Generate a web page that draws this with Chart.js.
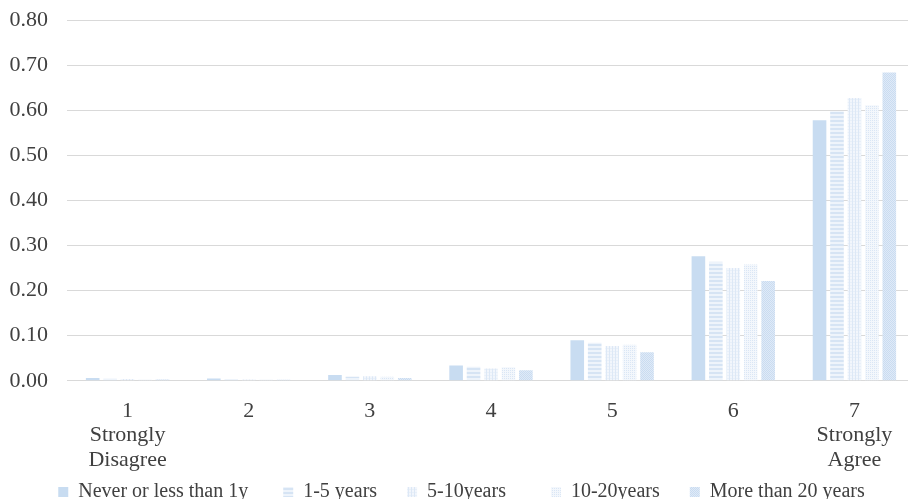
<!DOCTYPE html>
<html>
<head>
<meta charset="utf-8">
<script src="https://cdn.jsdelivr.net/npm/chart.js@4.4.1/dist/chart.umd.min.js"></script>
<style>
  html, body { margin: 0; padding: 0; background: #fff; overflow: hidden; }
  #wrap { width: 908px; height: 499px; overflow: hidden; }
</style>
</head>
<body>
<div id="wrap"><canvas id="chart" width="916" height="499"></canvas></div>
<script>
// categories (agreement scale) and tick labels
const categories = [
  ['1', 'Strongly', 'Disagree'], ['2'], ['3'], ['4'], ['5'], ['6'], ['7', 'Strongly', 'Agree']
];
const yTicks = [0, 0.1, 0.2, 0.3, 0.4, 0.5, 0.6, 0.7, 0.8];

// series values
const neverOrLess1y = [0.006, 0.005, 0.013, 0.034, 0.090, 0.276, 0.578];
const years1to5    = [0.005, 0.004, 0.009, 0.031, 0.084, 0.264, 0.598];
const years5to10   = [0.004, 0.003, 0.010, 0.027, 0.077, 0.250, 0.627];
const years10to20  = [0.003, 0.003, 0.009, 0.030, 0.080, 0.258, 0.611];
const over20years  = [0.003, 0.002, 0.006, 0.023, 0.063, 0.221, 0.684];

// extra spaces after each legend entry, to spread the legend like the source
const legendGap = [7, 6, 9, 6, 0];

// small tile patterns, like the office-style fills in the source
function makePattern(size, bg, draw) {
  const c = document.createElement('canvas');
  c.width = size; c.height = size;
  const g = c.getContext('2d');
  g.fillStyle = bg;
  g.fillRect(0, 0, size, size);
  draw(g);
  return document.getElementById('chart').getContext('2d').createPattern(c, 'repeat');
}

const fillSolid = '#c8dcf1';
const fillHoriz = makePattern(4, '#eef4fb', g => {
  g.fillStyle = '#d6e4f4';
  g.fillRect(0, 0, 4, 2);
});
const fillVert = makePattern(3, '#f2f6fc', g => {
  g.fillStyle = '#dde8f6';
  g.fillRect(0, 0, 1, 3);
  g.fillStyle = '#e8f0f9';
  g.fillRect(1, 0, 2, 1);
});
const fillDots = makePattern(2, '#f3f7fc', g => {
  g.fillStyle = '#dae6f5';
  g.fillRect(0, 0, 1, 1);
});
const fillCross = makePattern(2, '#e0eaf7', g => {
  g.fillStyle = '#c9dcf1';
  g.fillRect(0, 0, 1, 1);
  g.fillRect(1, 1, 1, 1);
});

const serif = "'Liberation Serif', 'DejaVu Serif', serif";
const textColor = '#404040';

const chart = new Chart(document.getElementById('chart'), {
  type: 'bar',
  data: {
    labels: categories,
    datasets: [
      { label: 'Never or less than 1y', data: neverOrLess1y, backgroundColor: fillSolid },
      { label: '1-5 years', data: years1to5, backgroundColor: fillHoriz },
      { label: '5-10years', data: years5to10, backgroundColor: fillVert },
      { label: '10-20years', data: years10to20, backgroundColor: fillDots },
      { label: 'More than 20 years', data: over20years, backgroundColor: fillCross }
    ]
  },
  options: {
    responsive: false,
    animation: false,
    devicePixelRatio: 1,
    categoryPercentage: 0.72,
    barPercentage: 0.78,
    layout: { padding: { left: 8, right: 1, top: 0, bottom: -13 } },
    plugins: {
      tooltip: { enabled: false },
      legend: {
        position: 'bottom',
        labels: {
          color: textColor,
          font: { family: serif, size: 20, lineHeight: 1.0 },
          boxWidth: 10,
          boxHeight: 10,
          padding: 0,
          generateLabels: c => {
            const items = Chart.defaults.plugins.legend.labels.generateLabels(c);
            items.forEach((it, i) => { it.text = it.text + ' '.repeat(legendGap[i]); });
            return items;
          }
        }
      }
    },
    scales: {
      x: {
        grid: { display: false, drawTicks: false },
        border: { display: true, color: '#d9d9d9' },
        // labels may run into the legend's top margin, as in the source
        afterFit: axis => { axis.height -= 8; },
        ticks: {
          color: textColor,
          font: { family: serif, size: 22, lineHeight: 1.11 },
          padding: 18,
          maxRotation: 0,
          autoSkip: false
        }
      },
      y: {
        min: 0,
        max: 0.8,
        afterBuildTicks: axis => { axis.ticks = yTicks.map(v => ({ value: v })); },
        afterFit: axis => { axis.width = 59; },
        grid: { color: '#d9d9d9', drawTicks: false },
        border: { display: false },
        ticks: {
          color: textColor,
          font: { family: serif, size: 22, lineHeight: 0.1 },
          padding: 19,
          callback: v => Number(v).toFixed(2)
        }
      }
    }
  }
});
</script>
</body>
</html>
